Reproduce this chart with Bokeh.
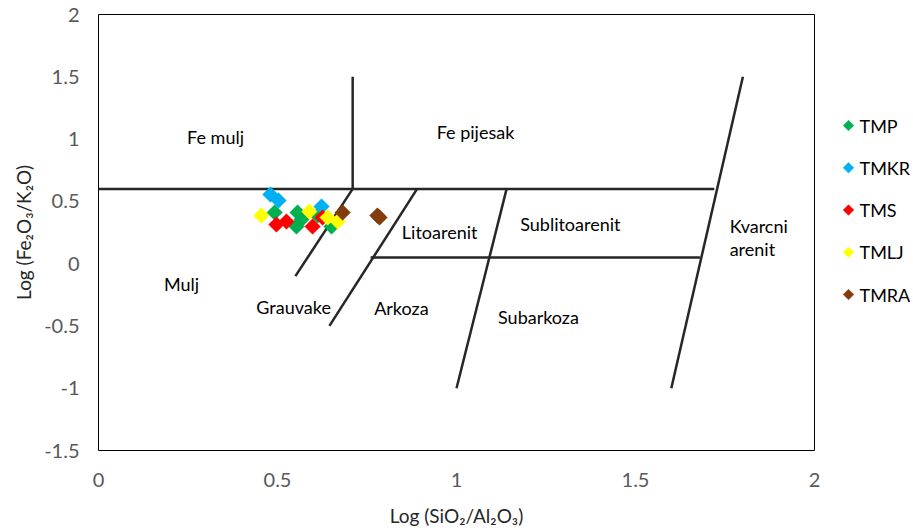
import math
from bokeh.plotting import figure
from bokeh.layouts import row
from bokeh.models import Range1d, FixedTicker
from bokeh.core.properties import value
from bokeh.embed import file_html
from bokeh.resources import INLINE

# ---------------- data ----------------
series_names = ["TMP", "TMKR", "TMS", "TMLJ", "TMRA"]
series_colors = ["#00B050", "#00B0F0", "#FF0000", "#FFFF00", "#843C0C"]

tmp_x = [0.492, 0.556, 0.553, 0.567, 0.612, 0.651]
tmp_y = [0.410, 0.410, 0.298, 0.354, 0.386, 0.298]
tmkr_x = [0.480, 0.503, 0.623]
tmkr_y = [0.555, 0.507, 0.458]
tms_x = [0.497, 0.525, 0.598, 0.626]
tms_y = [0.314, 0.338, 0.298, 0.370]
tmlj_x = [0.455, 0.589, 0.640, 0.668]
tmlj_y = [0.386, 0.418, 0.370, 0.338]
tmra_x = [0.682, 0.779, 0.785]
tmra_y = [0.410, 0.386, 0.370]

series_x = [tmp_x, tmkr_x, tms_x, tmlj_x, tmra_x]
series_y = [tmp_y, tmkr_y, tms_y, tmlj_y, tmra_y]

# field boundary lines (Herron diagram)
boundary_xs = [[0.0, 1.72], [0.71, 0.71], [0.71, 0.55], [0.89, 0.645],
               [1.14, 1.0], [0.76, 1.68], [1.80, 1.60]]
boundary_ys = [[0.6, 0.6], [1.5, 0.6], [0.6, -0.1], [0.6, -0.5],
               [0.6, -1.0], [0.05, 0.05], [1.5, -1.0]]

# field labels
field_labels = ["Fe mulj", "Fe pijesak", "Mulj", "Grauvake", "Arkoza",
                "Litoarenit", "Sublitoarenit", "Subarkoza"]
field_x = [0.327, 1.053, 0.232, 0.545, 0.846, 0.953, 1.318, 1.229]
field_y = [1.02, 1.06, -0.16, -0.345, -0.354, 0.258, 0.32, -0.425]
kv_labels = ["Kvarcni", "arenit"]
kv_x = [1.763, 1.763]
kv_y = [0.306, 0.12]

x_ticks = [0, 0.5, 1, 1.5, 2]
x_tick_labels = ["0", "0.5", "1", "1.5", "2"]
y_ticks = [-1.5, -1, -0.5, 0, 0.5, 1, 1.5, 2]
y_tick_labels = ["-1.5", "-1", "-0.5", "0", "0.5", "1", "1.5", "2"]

x_title = "Log (SiO\u2082/Al\u2082O\u2083)"
y_title = "Log (Fe\u2082O\u2083/K\u2082O)"

FONT = "Lato"
TOP, FRAME_H, BOTTOM = 14, 436, 78

# ---------------- main figure ----------------
p = figure(frame_width=716, frame_height=FRAME_H,
           x_range=Range1d(0, 2), y_range=Range1d(-1.5, 2),
           output_backend="svg", toolbar_location=None,
           min_border_left=98, min_border_top=TOP, min_border_bottom=BOTTOM,
           min_border_right=10)
p.background_fill_color = "white"
p.border_fill_color = "white"
p.outline_line_color = "black"
p.outline_line_width = 1
p.xgrid.visible = False
p.ygrid.visible = False

for ax in (p.xaxis[0], p.yaxis[0]):
    ax.axis_line_color = None
    ax.major_tick_line_color = None
    ax.minor_tick_line_color = None
    ax.major_tick_out = 0
    ax.major_tick_in = 0
    ax.minor_tick_out = 0
    ax.major_label_text_font = FONT
    ax.major_label_text_font_size = "20px"
    ax.major_label_text_color = "#595959"
    ax.axis_label_text_font = FONT
    ax.axis_label_text_font_size = "19px"
    ax.axis_label_text_font_style = "normal"
    ax.axis_label_text_color = "#262626"

p.xaxis.ticker = FixedTicker(ticks=x_ticks)
p.xaxis.major_label_overrides = {t: l for t, l in zip(x_ticks, x_tick_labels)}
p.yaxis.ticker = FixedTicker(ticks=y_ticks)
p.yaxis.major_label_overrides = {t: l for t, l in zip(y_ticks, y_tick_labels)}
p.xaxis.major_label_standoff = 22
p.yaxis.major_label_standoff = 19
p.xaxis.axis_label = x_title
p.yaxis.axis_label = y_title
p.xaxis.axis_label_standoff = 14
p.yaxis.axis_label_standoff = 6

# boundaries
p.multi_line(xs=boundary_xs, ys=boundary_ys, line_color="#262626", line_width=2.5)

# field labels
p.text(x=field_x, y=field_y, text=field_labels, text_font=value(FONT),
       text_font_size="18px", text_color="#000000",
       text_align="center", text_baseline="middle")
p.text(x=kv_x, y=kv_y, text=kv_labels, text_font=value(FONT),
       text_font_size="18px", text_color="#000000",
       text_align="left", text_baseline="middle")

# series
for name, col, xs, ys in zip(series_names, series_colors, series_x, series_y):
    p.scatter(x=xs, y=ys, marker="square", angle=math.pi / 4, size=11,
              fill_color=col, line_color=col, line_width=0.5)

# ---------------- legend panel (pixel coords inside frame, y downward) ----------------
LEG_W = 86
lg = figure(frame_width=LEG_W, frame_height=FRAME_H,
            x_range=Range1d(0, LEG_W), y_range=Range1d(FRAME_H, 0),
            output_backend="svg", toolbar_location=None,
            min_border_left=0, min_border_right=0,
            min_border_top=TOP, min_border_bottom=BOTTOM)
lg.axis.visible = False
lg.grid.visible = False
lg.outline_line_color = None
lg.background_fill_color = "white"
lg.border_fill_color = "white"

n = len(series_names)
leg_y = [111 + 42.25 * i for i in range(n)]
lg.scatter(x=[24] * n, y=leg_y, marker="square", angle=math.pi / 4, size=7.5,
           fill_color=series_colors, line_color=series_colors, line_width=0.5)
lg.text(x=[35] * n, y=leg_y, text=series_names, text_font=value(FONT),
        text_font_size="18px", text_color="#000000",
        text_align="left", text_baseline="middle")

layout = row(p, lg, spacing=0)
open("out.html", "w").write(file_html(layout, INLINE))
